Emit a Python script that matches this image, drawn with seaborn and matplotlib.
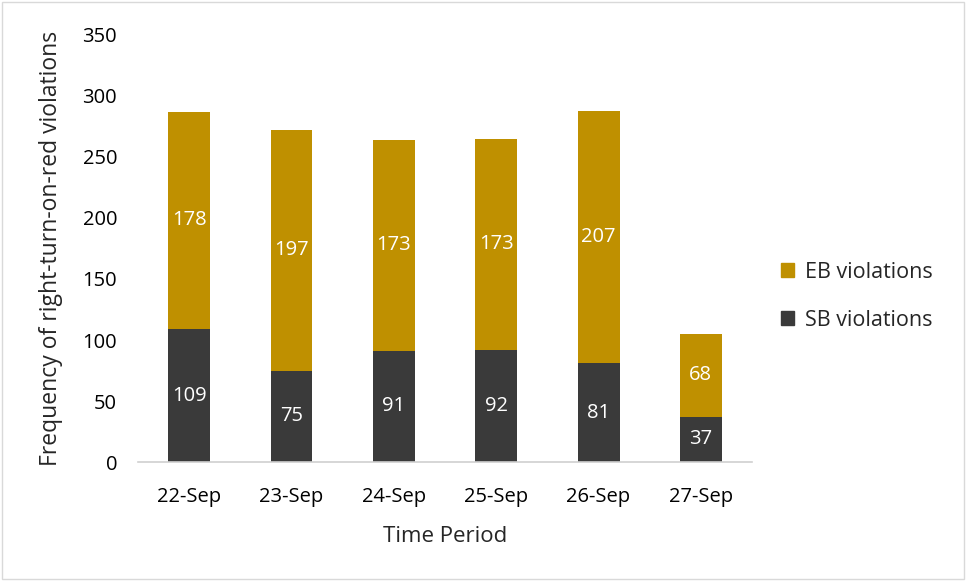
import matplotlib
matplotlib.use("Agg")
import matplotlib.pyplot as plt
import matplotlib.patches as mpatches
import numpy as np
import pandas as pd
import seaborn as sns

# -------------------------------
# Data
# -------------------------------
dates = ["22-Sep", "23-Sep", "24-Sep", "25-Sep", "26-Sep", "27-Sep"]
sb_violations = [109, 75, 91, 92, 81, 37]
eb_violations = [178, 197, 173, 173, 207, 68]

EB_COLOR = "#BF9000"
SB_COLOR = "#3A3A3A"

sns.set_theme(style="white")
plt.rcParams["font.family"] = ["Open Sans", "DejaVu Sans"]

df = pd.DataFrame({"date": dates, "SB": sb_violations, "EB": eb_violations})
df["total"] = df["SB"] + df["EB"]

fig = plt.figure(figsize=(9.67, 5.81), dpi=100)
ax = fig.add_axes([0.1427, 0.2048, 0.635, 0.735])

# Stacked bars: totals in gold, SB overlaid in dark gray
sns.barplot(data=df, x="date", y="total", color=EB_COLOR, width=0.41,
            saturation=1, linewidth=0, ax=ax)
sns.barplot(data=df, x="date", y="SB", color=SB_COLOR, width=0.41,
            saturation=1, linewidth=0, ax=ax)

# Segment labels
for i, (sb, eb) in enumerate(zip(sb_violations, eb_violations)):
    ax.text(i, sb / 2, str(sb), ha="center", va="center", color="white", fontsize=14.5)
    ax.text(i, sb + eb / 2, str(eb), ha="center", va="center", color="white", fontsize=14.5)

ax.set_ylim(0, 350)
ax.set_yticks(range(0, 351, 50))
ax.set_xlim(-0.5, len(dates) - 0.5)
ax.set_xlabel("Time Period", fontsize=16, labelpad=14)
ax.set_ylabel("Frequency of right-turn-on-red violations", fontsize=16.5, labelpad=14)
ax.tick_params(axis="both", labelsize=14.5, colors="#000000", length=0)
ax.tick_params(axis="y", pad=15)
ax.tick_params(axis="x", pad=18)

# Category boundary ticks on the x axis
ax.set_xticks(np.arange(-0.5, len(dates)), minor=True)
ax.tick_params(axis="x", which="minor", length=7, color="#D0D0D0", width=1)

for side in ["top", "right", "left"]:
    ax.spines[side].set_visible(False)
ax.spines["bottom"].set_color("#D0D0D0")
ax.spines["bottom"].set_linewidth(1.2)

handles = [mpatches.Patch(color=EB_COLOR, label="EB violations"),
           mpatches.Patch(color=SB_COLOR, label="SB violations")]
fig.legend(handles=handles, loc="center left", bbox_to_anchor=(0.797, 0.49),
           frameon=False, fontsize=15.5, handlelength=0.6, handleheight=0.6,
           handletextpad=0.5, labelspacing=1.25, borderpad=0)

# Light border around the chart area
fig.patches.append(mpatches.Rectangle((0.002, 0.003), 0.995, 0.993, transform=fig.transFigure,
                                      fill=False, edgecolor="#D9D9D9", linewidth=1))

fig.savefig("out.png", dpi=100)
